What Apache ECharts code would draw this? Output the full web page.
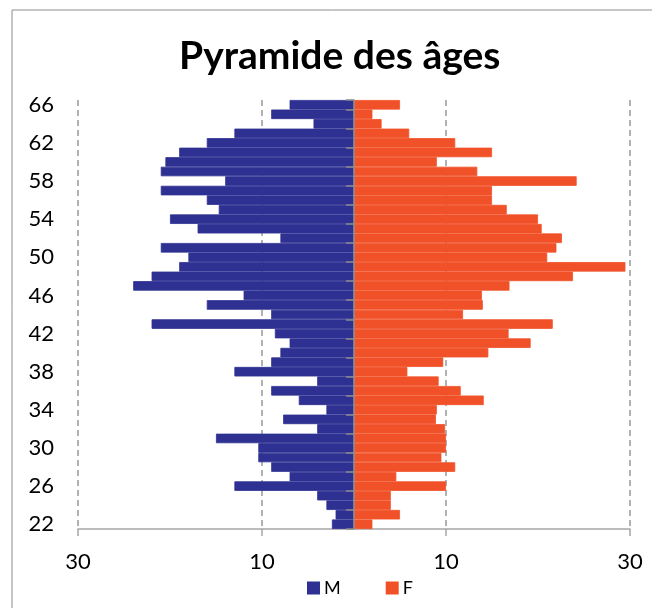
<!DOCTYPE html>
<html>
<head>
<meta charset="utf-8">
<script src="https://cdn.jsdelivr.net/npm/echarts@6/dist/echarts.min.js"></script>
<style>
  html, body { margin: 0; padding: 0; background: #fff; }
  #chart { width: 652px; height: 608px; }
</style>
</head>
<body>
<div id="chart"></div>
<script>
// ages, bottom to top
var ages = ['22', '23', '24', '25', '26', '27', '28', '29', '30', '31', '32', '33', '34', '35', '36', '37', '38', '39', '40', '41', '42', '43', '44',
  '45', '46', '47', '48', '49', '50', '51', '52', '53', '54', '55', '56', '57', '58', '59', '60', '61', '62', '63', '64', '65', '66']

// hommes (drawn on the left)
var hommes = [2.4, 2, 3, 4, 13, 7, 9, 10.4, 10.4, 15, 4, 7.7, 3, 6, 9, 4, 13, 9, 8, 7, 8.6, 22, 9,
  16, 12, 24, 22, 19, 18, 21, 8, 17, 20, 14.7, 16, 21, 14, 21, 20.5, 19, 16, 13, 4.4, 9, 7]

// femmes (drawn on the right)
var femmes = [2, 5, 4, 4, 10, 4.6, 11, 9.5, 10, 10, 9.9, 8.9, 9, 14.1, 11.6, 9.2, 5.8, 9.7, 14.6, 19.2, 16.8, 21.6, 11.85,
  14, 13.9, 16.9, 23.8, 29.5, 21, 22, 22.6, 20.4, 20, 16.6, 15, 15, 24.2, 13.4, 9, 15, 11, 6, 3, 2, 5]

var font = 'Lato, "Open Sans", sans-serif'
var blue = '#2E3192'
var orange = '#F15128'

var chart = echarts.init(document.getElementById('chart'))

chart.setOption({
  animation: false,
  textStyle: { fontFamily: font },
  title: {
    text: 'Pyramide des âges',
    left: 174,
    top: 32,
    textStyle: { fontSize: 39, fontWeight: 'bold', color: '#000', fontFamily: font }
  },
  legend: {
    bottom: 6,
    left: 302,
    icon: 'rect',
    itemWidth: 11,
    itemHeight: 11,
    itemGap: 45,
    textStyle: { fontSize: 18, color: '#000' },
    data: ['M', 'F']
  },
  graphic: [{
    type: 'rect',
    shape: { x: 12, y: 10, width: 700, height: 700 },
    style: { fill: 'none', stroke: '#8c8c8c', lineWidth: 1 },
    silent: true
  }],
  grid: {
    left: 78,
    right: 22,
    top: 100,
    bottom: 79
  },
  xAxis: {
    type: 'value',
    min: -30,
    max: 30,
    interval: 20,
    axisLine: { show: true, onZero: false, lineStyle: { color: '#a6a6a6', width: 1.5 } },
    axisTick: { show: true, length: 7, lineStyle: { color: '#a6a6a6', width: 1.5 } },
    axisLabel: {
      fontSize: 22,
      color: '#000',
      margin: 22,
      formatter: function (v) { return Math.abs(v) }
    },
    splitLine: { show: true, lineStyle: { color: '#999', type: [6, 4], width: 1.5 } }
  },
  yAxis: [{
    type: 'category',
    data: ages,
    position: 'left',
    axisLine: { show: false, onZero: false },
    axisTick: { show: false },
    axisLabel: { interval: 3, fontSize: 22, color: '#000', margin: 24 }
  }, {
    type: 'category',
    data: ages,
    position: 'right',
    z: 10,
    axisLine: { show: true, onZero: true, lineStyle: { color: '#8c8c8c', width: 1.5 } },
    axisTick: { show: true, inside: true, length: 8, lineStyle: { color: '#8c8c8c', width: 1.5 } },
    axisLabel: { show: false }
  }],
  series: [{
    name: 'M',
    type: 'bar',
    yAxisIndex: 0,
    barGap: '-100%',
    barCategoryGap: 0,
    itemStyle: { color: blue, borderColor: blue, borderWidth: 0.8 },
    data: hommes.map(function (v) { return -v })
  }, {
    name: 'F',
    type: 'bar',
    yAxisIndex: 0,
    barGap: '-100%',
    barCategoryGap: 0,
    itemStyle: { color: orange, borderColor: orange, borderWidth: 0.8 },
    data: femmes
  }]
})
</script>
</body>
</html>
